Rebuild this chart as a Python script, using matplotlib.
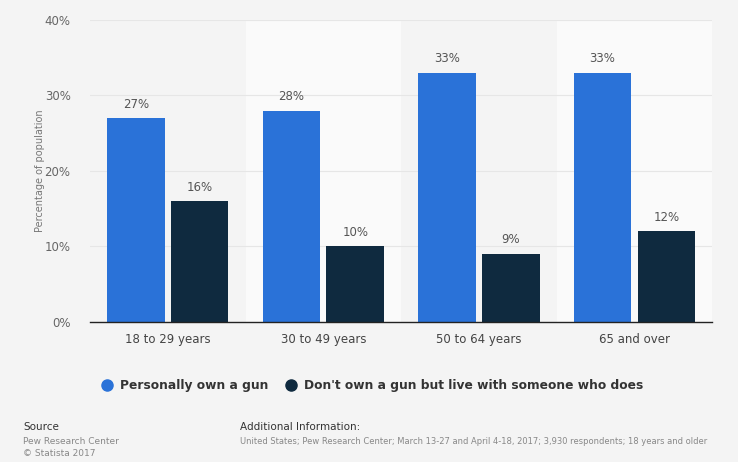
import matplotlib.pyplot as plt
from matplotlib.lines import Line2D
import numpy as np

categories = ["18 to 29 years", "30 to 49 years", "50 to 64 years", "65 and over"]
own_gun = [27, 28, 33, 33]
live_with_owner = [16, 10, 9, 12]
series_names = ["Personally own a gun", "Don't own a gun but live with someone who does"]
y_ticks = [0, 10, 20, 30, 40]

blue = "#2a72d8"
navy = "#0f2a3f"
bg = "#f4f4f4"

fig = plt.figure(figsize=(7.38, 4.62), dpi=100, facecolor=bg)
ax = fig.add_axes([0.122, 0.303, 0.843, 0.654])
ax.set_facecolor(bg)

x = np.arange(len(categories))
w = 0.37
off = 0.205

# alternating column bands
for i in x:
    if i % 2 == 1:
        ax.axvspan(i - 0.5, i + 0.5, color="#fafafa", zorder=0, lw=0)

ax.set_ylim(0, 40)
ax.set_xlim(-0.5, len(categories) - 0.5)
for t in y_ticks[1:]:
    ax.axhline(t, color="#e6e6e6", lw=0.8, zorder=1)

b1 = ax.bar(x - off, own_gun, w, color=blue, zorder=2)
b2 = ax.bar(x + off, live_with_owner, w, color=navy, zorder=2)

for bars, vals in ((b1, own_gun), (b2, live_with_owner)):
    for rect, v in zip(bars, vals):
        ax.text(rect.get_x() + rect.get_width() / 2, v + 1.0, f"{v}%",
                ha="center", va="bottom", fontsize=8.5, color="#555555")

ax.set_yticks(y_ticks)
ax.set_yticklabels([f"{t}%" for t in y_ticks], fontsize=8.5, color="#666666")
ax.set_xticks(x)
ax.set_xticklabels(categories, fontsize=8.5, color="#444444")
ax.tick_params(axis="both", length=0, pad=8)
ax.tick_params(axis="y", pad=14)
ax.set_ylabel("Percentage of population", fontsize=7, color="#777777", labelpad=0)

for s in ("top", "right", "left"):
    ax.spines[s].set_visible(False)
ax.spines["bottom"].set_color("#222222")
ax.spines["bottom"].set_linewidth(1.0)

handles = [Line2D([], [], marker="o", ls="", markersize=8, color=blue),
           Line2D([], [], marker="o", ls="", markersize=8, color=navy)]
fig.legend(handles, series_names, loc="center", bbox_to_anchor=(0.5, 0.165), ncol=2,
           frameon=False, handletextpad=0.1, columnspacing=0.8,
           prop={"weight": "bold", "size": 8.8})
for txt in fig.legends[0].get_texts():
    txt.set_color("#333333")

fig.text(0.031, 0.07, "Source", fontsize=7.5, color="#333333")
fig.text(0.031, 0.04, "Pew Research Center", fontsize=6.5, color="#888888")
fig.text(0.031, 0.013, "\u00a9 Statista 2017", fontsize=6.5, color="#888888")
fig.text(0.325, 0.07, "Additional Information:", fontsize=7.5, color="#333333")
fig.text(0.325, 0.04, "United States; Pew Research Center; March 13-27 and April 4-18, 2017; 3,930 respondents; 18 years and older",
         fontsize=6, color="#888888")

fig.savefig("out.png", dpi=100, facecolor=bg)
